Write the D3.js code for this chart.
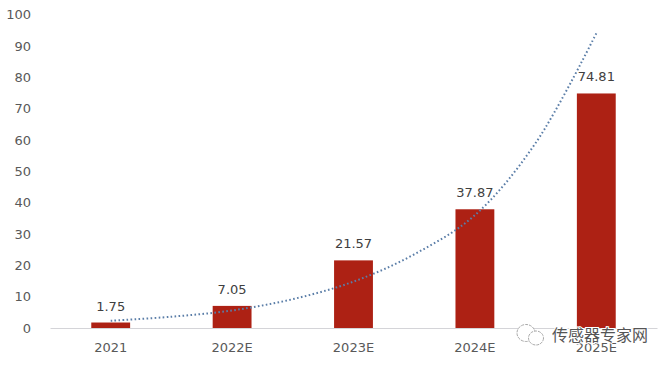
<!DOCTYPE html>
<html>
<head>
<meta charset="utf-8">
<script src="https://cdn.jsdelivr.net/npm/d3@7"></script>
<style>
  html, body { margin: 0; padding: 0; background: #fff; }
  text { font-family: "DejaVu Sans", sans-serif; }
</style>
</head>
<body>
<svg id="chart" width="668" height="365"></svg>
<script>
const categories = ["2021", "2022E", "2023E", "2024E", "2025E"];
const values = [1.75, 7.05, 21.57, 37.87, 74.81];
const yTicks = [0, 10, 20, 30, 40, 50, 60, 70, 80, 90, 100];
// dotted trend line at every half category
const trendPos = [0, 0.5, 1, 1.5, 2, 2.5, 3, 3.5, 4];
const trendValues = [2.3, 3.6, 5.6, 9.2, 14.8, 23.5, 36, 59, 94];

const svg = d3.select("#chart");

const X_SCALE = d3.scaleBand()
    .domain(categories)
    .range([50, 657])
    .paddingInner(0.68)
    .paddingOuter(0.34);
const Y_SCALE = d3.scaleLinear().domain([0, 100]).range([328, 14.5]);

// trend position is in category units, 0 = centre of the first bar
const step = X_SCALE.step();
const trendX = d3.scaleLinear()
    .domain([0, 1])
    .range([X_SCALE(categories[0]) + X_SCALE.bandwidth() / 2,
            X_SCALE(categories[0]) + X_SCALE.bandwidth() / 2 + step]);

svg.selectAll("rect.bar")
    .data(categories)
    .join("rect")
    .attr("class", "bar")
    .attr("x", d => X_SCALE(d))
    .attr("width", X_SCALE.bandwidth())
    .attr("y", (d, i) => Y_SCALE(values[i]))
    .attr("height", (d, i) => Y_SCALE(0) - Y_SCALE(values[i]))
    .attr("fill", "#ad2114");

// baseline
const xAxis = svg.append("g")
    .attr("transform", "translate(0," + Y_SCALE(0) + ")")
    .call(d3.axisBottom(X_SCALE).tickSize(0).tickPadding(15));
xAxis.select(".domain").attr("stroke", "#d4d4d8").attr("stroke-width", 1);
xAxis.selectAll("text").attr("fill", "#595959").style("font-size", "13px");

const yAxis = svg.append("g")
    .attr("transform", "translate(31,0)")
    .call(d3.axisLeft(Y_SCALE).tickValues(yTicks).tickSize(0).tickPadding(0));
yAxis.select(".domain").remove();
yAxis.selectAll("text").attr("fill", "#595959").style("font-size", "13px");

svg.append("path")
    .datum(trendPos)
    .attr("fill", "none")
    .attr("stroke", "#5b7ea8")
    .attr("stroke-width", 2)
    .attr("stroke-dasharray", "1.6 2.4")
    .attr("d", d3.line()
        .curve(d3.curveCatmullRom)
        .x(d => trendX(d))
        .y((d, i) => Y_SCALE(trendValues[i])));

svg.selectAll("text.label")
    .data(categories)
    .join("text")
    .attr("class", "label")
    .attr("x", d => X_SCALE(d) + X_SCALE.bandwidth() / 2)
    .attr("y", (d, i) => Y_SCALE(values[i]) - 12)
    .attr("text-anchor", "middle")
    .attr("fill", "#404040")
    .style("font-size", "13px")
    .text((d, i) => values[i]);

// watermark over the last tick label
const mark = svg.append("g").attr("transform", "translate(526,333)")
    .attr("fill", "none").attr("stroke", "#a8a8a8").attr("stroke-width", 1)
    .attr("stroke-dasharray", "3 1");
mark.append("ellipse").attr("cx", 0).attr("cy", 0).attr("rx", 9).attr("ry", 8.5).attr("fill", "#fff");
mark.append("ellipse").attr("cx", 10).attr("cy", 5).attr("rx", 7.5).attr("ry", 7).attr("fill", "#fff");

svg.append("text")
    .attr("x", 552)
    .attr("y", 341)
    .attr("fill", "#555")
    .attr("stroke", "#fff")
    .attr("stroke-width", 2)
    .attr("paint-order", "stroke")
    .style("font-family", "'Noto Sans CJK SC'")
    .style("font-size", "16px")
    .text("传感器专家网");
</script>
</body>
</html>
